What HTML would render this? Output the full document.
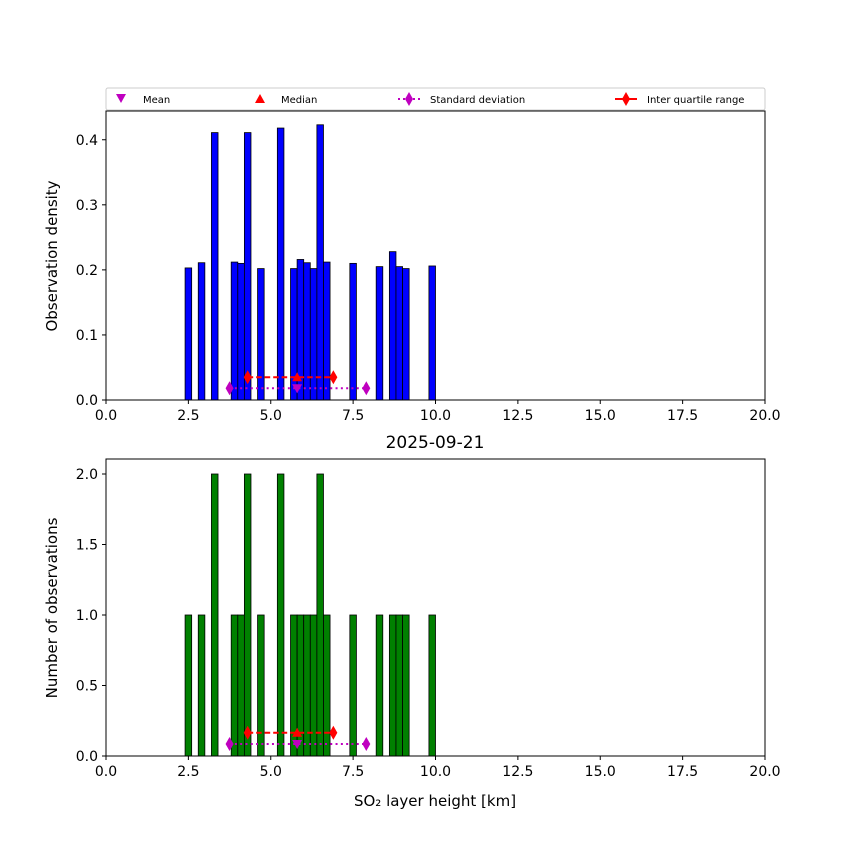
<!DOCTYPE html>
<html><head><meta charset="utf-8"><style>
body{margin:0;background:#fff;font-family:"Liberation Sans","DejaVu Sans",sans-serif}
</style></head><body>
<svg width="850" height="850" xmlns="http://www.w3.org/2000/svg" font-family="DejaVu Sans, Liberation Sans, sans-serif">
<g id="top"></g>
<g id="bot"></g>
<g>
<rect x="106" y="88" width="659" height="22" fill="#fff" stroke="#ccc" rx="2"/>
<polygon points="116,94 126,94 121,103" fill="#bf00bf"/>
<text x="143" y="103" font-size="10">Mean</text>
<polygon points="255,103 265,103 260,94" fill="red"/>
<text x="281" y="103" font-size="10">Median</text>
<line x1="398" y1="99" x2="420" y2="99" stroke="#bf00bf" stroke-width="2" stroke-dasharray="2,3"/>
<polygon points="409,92 413,99 409,106 405,99" fill="#bf00bf"/>
<text x="430" y="103" font-size="10">Standard deviation</text>
<line x1="615" y1="99" x2="637" y2="99" stroke="red" stroke-width="2"/>
<polygon points="626,92 630,99 626,106 622,99" fill="red"/>
<text x="647" y="103" font-size="10">Inter quartile range</text>
</g>
<text x="435" y="448" font-size="17" text-anchor="middle">2025-09-21</text>
<text x="435" y="806" font-size="15" text-anchor="middle">SO₂ layer height [km]</text>
<text transform="translate(57,256) rotate(-90)" font-size="15" text-anchor="middle">Observation density</text>
<text transform="translate(57,608) rotate(-90)" font-size="15" text-anchor="middle">Number of observations</text>
</svg>
<script>
const binStarts=[2.4,2.8,3.2,3.8,4.0,4.2,4.6,5.2,5.6,5.8,6.0,6.2,6.4,6.6,7.4,8.2,8.6,8.8,9.0,9.8];
const counts=[1,1,2,1,1,2,1,2,1,1,1,1,2,1,1,1,1,1,1,1];
const densities=[0.203,0.211,0.411,0.212,0.210,0.411,0.202,0.418,0.202,0.216,0.211,0.202,0.423,0.212,0.210,0.205,0.228,0.205,0.202,0.206];
const binWidth=0.2;
const xTicks=[0,2.5,5,7.5,10,12.5,15,17.5,20];
const topTicks=[0,0.1,0.2,0.3,0.4];
const botTicks=[0,0.5,1,1.5,2];
const meanVal=5.8, medianVal=5.8, iqr=[4.3,6.9], std=[3.75,7.9];
const NS="http://www.w3.org/2000/svg";
const X0=106,X1=765;
const xs=v=>X0+(v-0)/20*(X1-X0);
function el(p,t,a){const e=document.createElementNS(NS,t);for(const k in a)e.setAttribute(k,a[k]);p.appendChild(e);return e;}
function panel(g,top,bottom,ymax,vals,color,ticks,iqrY,stdY){
  const ys=v=>bottom-(v/ymax)*(bottom-top);
  vals.forEach((v,i)=>{
    const r=el(g,'rect',{x:xs(binStarts[i]),y:ys(v),width:xs(binStarts[i]+binWidth)-xs(binStarts[i]),height:bottom-ys(v),fill:color,stroke:'#000','stroke-width':0.8});
    
    
  });
  const sy=ys(stdY), iy=ys(iqrY);
  el(g,'line',{x1:xs(std[0]),x2:xs(std[1]),y1:sy,y2:sy,stroke:'#bf00bf','stroke-width':2,'stroke-dasharray':'2,3.3'});
  std.forEach(v=>{const p=el(g,'polygon',{points:`${xs(v)},${sy-7} ${xs(v)+4},${sy} ${xs(v)},${sy+7} ${xs(v)-4},${sy}`,fill:'#bf00bf'});});
  el(g,'line',{x1:xs(iqr[0]),x2:xs(iqr[1]),y1:iy,y2:iy,stroke:'red','stroke-width':2,'stroke-dasharray':'5.5,3'});
  iqr.forEach(v=>{const p=el(g,'polygon',{points:`${xs(v)},${iy-7} ${xs(v)+4},${iy} ${xs(v)},${iy+7} ${xs(v)-4},${iy}`,fill:'red'});});
  const mx=xs(medianVal);
  const md=el(g,'polygon',{points:`${mx-5},${iy+4} ${mx+5},${iy+4} ${mx},${iy-5}`,fill:'red'});
  
  const mnx=xs(meanVal);
  const mn=el(g,'polygon',{points:`${mnx-5},${sy-4} ${mnx+5},${sy-4} ${mnx},${sy+5}`,fill:'#bf00bf'});
  
  el(g,'rect',{x:X0,y:top,width:X1-X0,height:bottom-top,fill:'none',stroke:'#000','stroke-width':1});
  xTicks.forEach(t=>{el(g,'line',{x1:xs(t),x2:xs(t),y1:bottom,y2:bottom+4,stroke:'#000'});
    const tx=el(g,'text',{x:xs(t),y:bottom+20,'font-size':14,'text-anchor':'middle'});tx.textContent=t.toFixed(1);
    });
  ticks.forEach(t=>{el(g,'line',{x1:X0-4,x2:X0,y1:ys(t),y2:ys(t),stroke:'#000'});
    const tx=el(g,'text',{x:X0-8,y:ys(t)+5,'font-size':14,'text-anchor':'end'});tx.textContent=t.toFixed(1);
    });
}
panel(document.getElementById('top'),111,400,0.4442,densities,'#0000ff',topTicks,0.035,0.018);
panel(document.getElementById('bot'),459,756,2.1064,counts,'#008000',botTicks,0.165,0.085);
</script>
</body></html>
